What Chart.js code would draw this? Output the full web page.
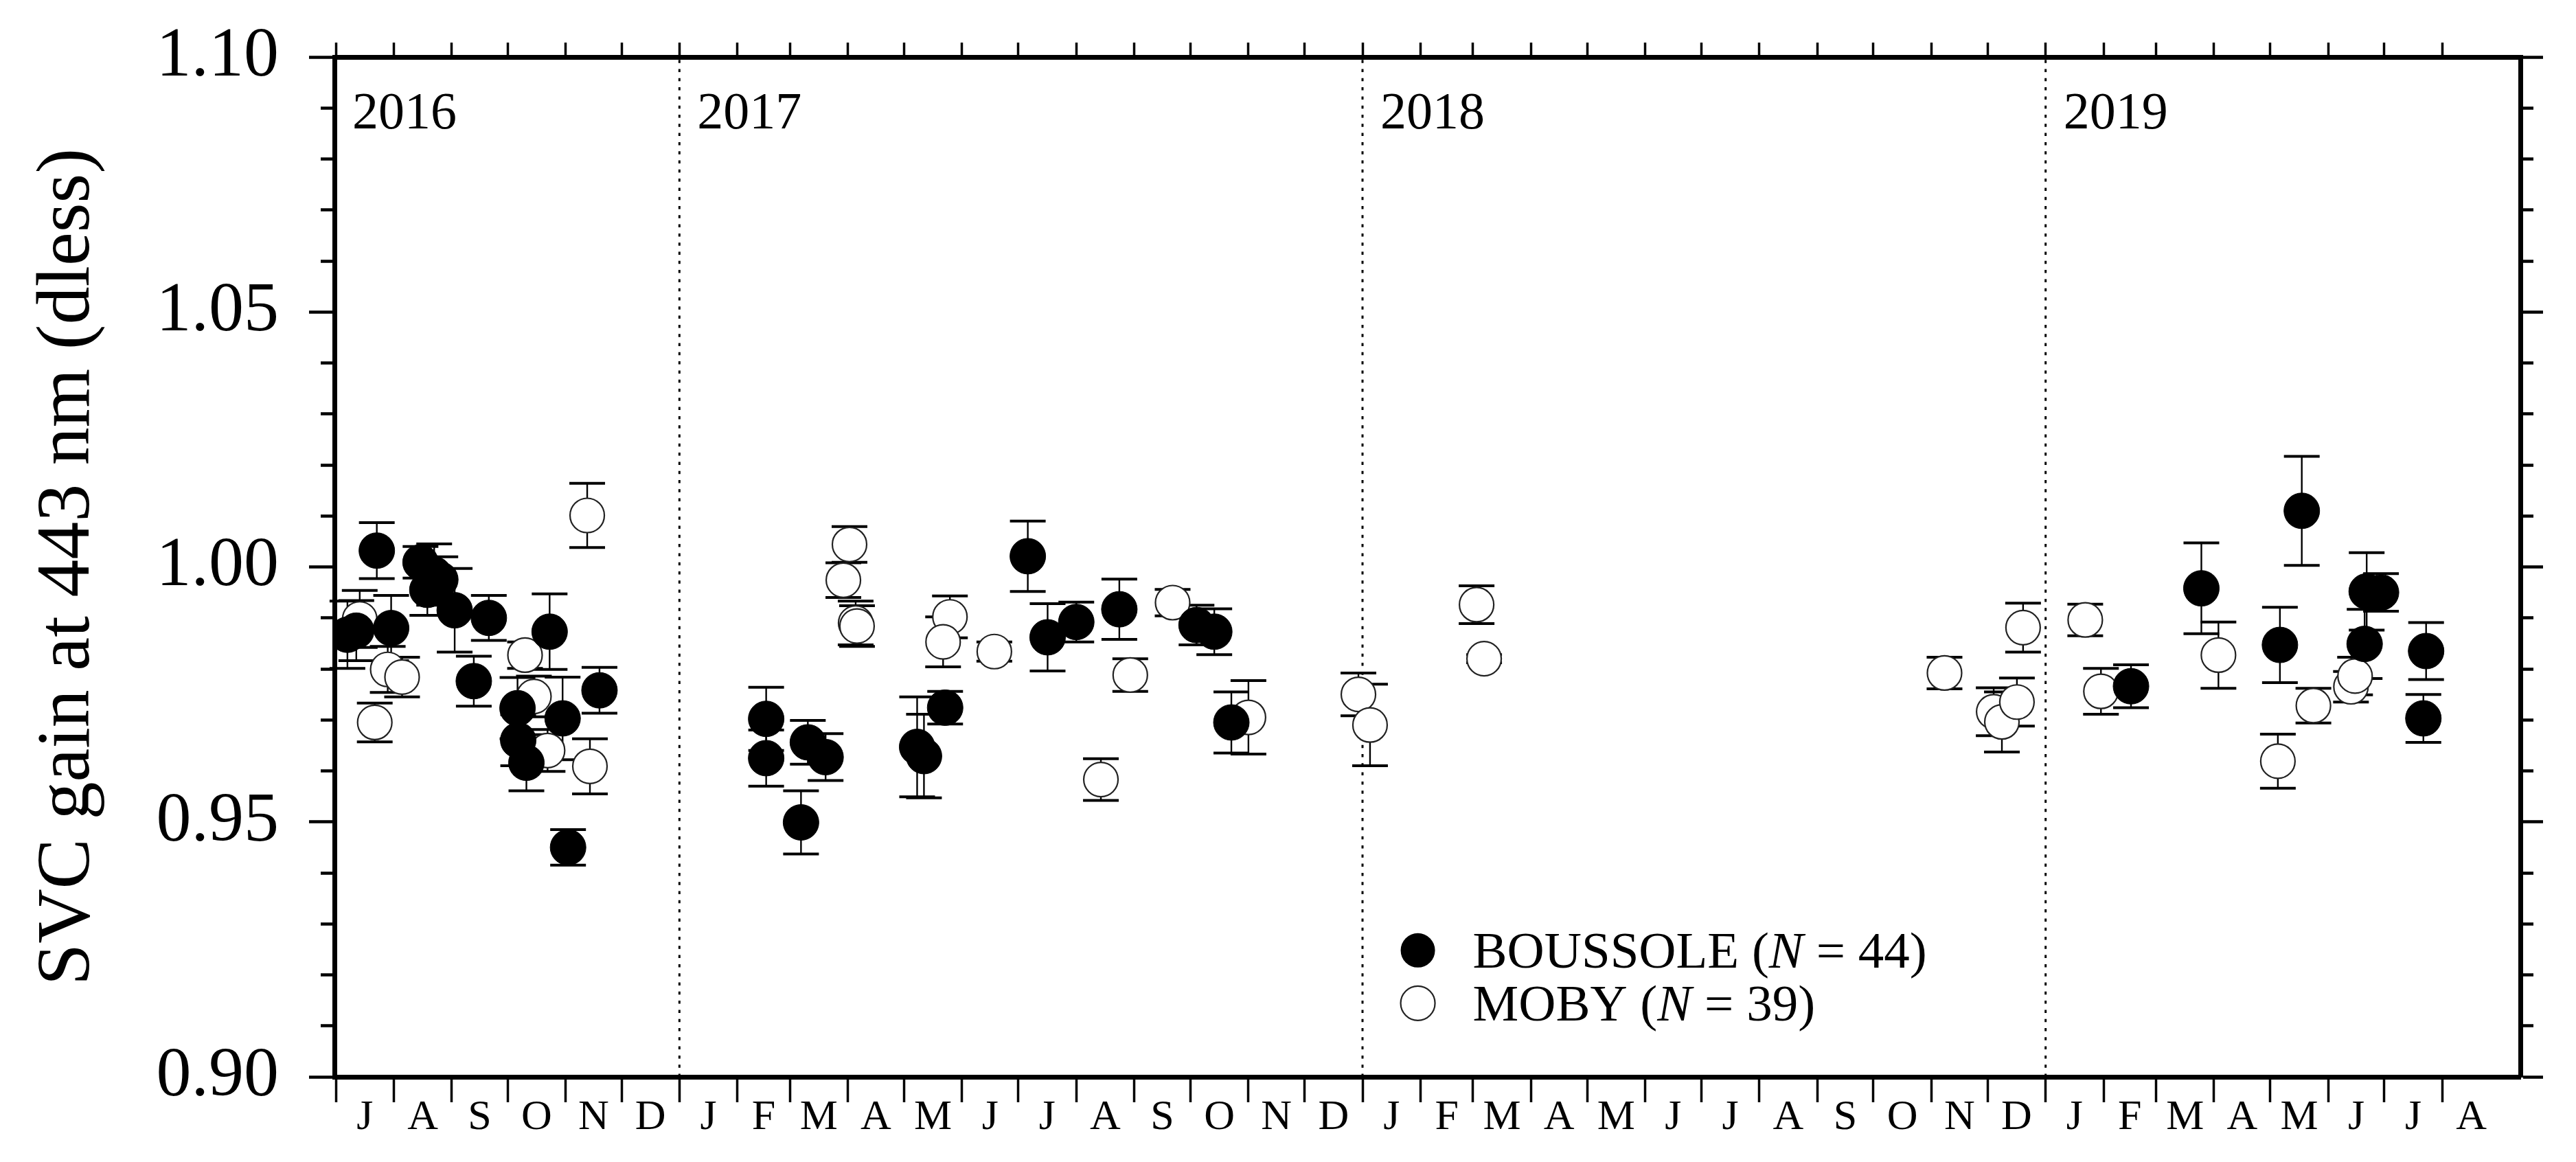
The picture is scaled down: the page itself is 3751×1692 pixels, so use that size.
<!DOCTYPE html>
<html>
<head>
<meta charset="utf-8">
<script src="https://cdn.jsdelivr.net/npm/chart.js@4.4.1/dist/chart.umd.min.js"></script>
<style>
  html, body { margin: 0; padding: 0; background: #ffffff; }
  #wrap { width: 3751px; height: 1692px; }
  canvas { display: block; }
</style>
</head>
<body>
<div id="wrap"><canvas id="chart" width="3751" height="1692"></canvas></div>
<script>
// ---------------- data (decimal year, gain, ± uncertainty) ----------------
const boussoleX = [
  2016.514, 2016.527, 2016.557, 2016.578, 2016.621, 2016.631, 2016.641, 2016.650, 2016.671,
  2016.699, 2016.721, 2016.763, 2016.764, 2016.776, 2016.810, 2016.829, 2016.837, 2016.883,
  2017.127, 2017.127, 2017.188, 2017.214, 2017.178, 2017.348, 2017.358, 2017.389,
  2017.510, 2017.539, 2017.581, 2017.644, 2017.757, 2017.783, 2017.808,
  2019.125, 2019.228, 2019.343, 2019.375, 2019.470, 2019.491, 2019.467, 2019.557, 2019.553
];
const boussoleY = [
  0.9867, 0.9875, 1.0032, 0.9880, 1.0009, 0.9955, 0.9985, 0.9975, 0.9915,
  0.9776, 0.9900, 0.9723, 0.9660, 0.9616, 0.9873, 0.9703, 0.9450, 0.9758,
  0.9702, 0.9625, 0.9656, 0.9627, 0.9499, 0.9647, 0.9629, 0.9724,
  1.0021, 0.9862, 0.9892, 0.9917, 0.9886, 0.9873, 0.9695,
  0.9766, 0.9958, 0.9847, 1.0110, 0.9952, 0.9950, 0.9849, 0.9835, 0.9703
];
const boussoleErr = [
  0.0066, 0.0059, 0.0055, 0.0064, 0.0031, 0.0050, 0.0060, 0.0045, 0.0082,
  0.0049, 0.0044, 0.0060, 0.0050, 0.0055, 0.0074, 0.0081, 0.0035, 0.0045,
  0.0062, 0.0055, 0.0043, 0.0046, 0.0062, 0.0098, 0.0082, 0.0032,
  0.0069, 0.0066, 0.0039, 0.0059, 0.0039, 0.0045, 0.0060,
  0.0042, 0.0089, 0.0074, 0.0107, 0.0076, 0.0037, 0.0068, 0.0056, 0.0047
];
const mobyX = [
  2016.532, 2016.554, 2016.573, 2016.594, 2016.774, 2016.787, 2016.807, 2016.865, 2016.869,
  2017.249, 2017.240, 2017.258, 2017.260, 2017.396, 2017.386, 2017.461, 2017.617, 2017.660,
  2017.722, 2017.833, 2017.994, 2018.011, 2018.167, 2018.178,
  2018.852, 2018.924, 2018.936, 2018.958, 2018.967,
  2019.058, 2019.081, 2019.253, 2019.340, 2019.392, 2019.447, 2019.453
];
const mobyY = [
  0.9898, 0.9695, 0.9799, 0.9784, 0.9827, 0.9746, 0.9640, 1.0101, 0.9609,
  1.0044, 0.9974, 0.9890, 0.9884, 0.9902, 0.9853, 0.9834, 0.9583, 0.9788,
  0.9930, 0.9705, 0.9750, 0.9690, 0.9926, 0.9820,
  0.9792, 0.9716, 0.9696, 0.9735, 0.9881,
  0.9896, 0.9756, 0.9827, 0.9619, 0.9728, 0.9765, 0.9786
];
const mobyErr = [
  0.0056, 0.0038, 0.0045, 0.0039, 0.0026, 0.0040, 0.0041, 0.0063, 0.0054,
  0.0035, 0.0034, 0.0043, 0.0040, 0.0041, 0.0049, 0.0019, 0.0041, 0.0032,
  0.0026, 0.0072, 0.0042, 0.0080, 0.0037, 0.0008,
  0.0031, 0.0047, 0.0059, 0.0047, 0.0048,
  0.0031, 0.0045, 0.0065, 0.0053, 0.0034, 0.0030, 0.0037
];
const legendNames = ['BOUSSOLE', 'MOBY'];
const legendCounts = [44, 39];
const yearLabels = ['2016', '2017', '2018', '2019'];
const yearDividers = [2017, 2018, 2019];
const monthLetters = ['J', 'F', 'M', 'A', 'M', 'J', 'J', 'A', 'S', 'O', 'N', 'D'];
const yMajorLabels = ['0.90', '0.95', '1.00', '1.05', '1.10'];
const yTitle = 'SVC gain at 443 nm (dless)';

// ---------------- axis set-up ----------------
const xMin = 2016.495, xMax = 2019.695;
const yMin = 0.90, yMax = 1.10;
const FONT = "'Liberation Serif', 'Times New Roman', serif";
const BW = 7;

function decYear(y, m, d) {
  const a = Date.UTC(y, 0, 1), b = Date.UTC(y + 1, 0, 1);
  return y + (Date.UTC(y, m, d) - a) / (b - a);
}
// month boundaries Jul 2016 .. Sep 2019
const monthBounds = [];
const monthIdx = [];
{
  let yy = 2016, mm = 6;
  for (let k = 0; k <= 38; k++) {
    monthBounds.push(decYear(yy, mm, 1));
    monthIdx.push(mm);
    mm++; if (mm > 11) { mm = 0; yy++; }
  }
}
const xTicks = [];
for (let k = 0; k < 38; k++) {
  xTicks.push({ value: monthBounds[k], label: '', major: true });
  xTicks.push({ value: (monthBounds[k] + monthBounds[k + 1]) / 2, label: monthLetters[monthIdx[k]], major: false });
}
const topTicks = monthBounds.slice(0, 38);
const yTickValues = Array.from({ length: 21 }, (_, i) => +(yMin + i * 0.01).toFixed(2));

function noPad(s) { s.paddingTop = 0; s.paddingBottom = 0; s.paddingLeft = 0; s.paddingRight = 0; }

// ---------------- plugins ----------------
const errorBars = {
  id: 'errorBars',
  beforeDatasetsDraw(chart) {
    const { ctx, scales: { x, y } } = chart;
    ctx.save();
    ctx.strokeStyle = '#000';
    ctx.lineCap = 'butt';
    const series = [[mobyX, mobyY, mobyErr], [boussoleX, boussoleY, boussoleErr]];
    for (const [xs, ys, es] of series) {
      for (let i = 0; i < xs.length; i++) {
        const px = x.getPixelForValue(xs[i]);
        const pt = y.getPixelForValue(ys[i] + es[i]);
        const pb = y.getPixelForValue(ys[i] - es[i]);
        ctx.lineWidth = 2.4;
        ctx.beginPath(); ctx.moveTo(px, pt); ctx.lineTo(px, pb); ctx.stroke();
        ctx.lineWidth = 4;
        ctx.beginPath();
        ctx.moveTo(px - 26, pt); ctx.lineTo(px + 26, pt);
        ctx.moveTo(px - 26, pb); ctx.lineTo(px + 26, pb);
        ctx.stroke();
      }
    }
    ctx.restore();
  }
};

const annotations = {
  id: 'annotations',
  afterDraw(chart) {
    const { ctx, chartArea: a, scales: { x, y } } = chart;
    ctx.save();
    ctx.fillStyle = '#000';
    ctx.textAlign = 'left';
    ctx.textBaseline = 'alphabetic';
    ctx.font = `76px ${FONT}`;
    yearLabels.forEach((t, i) => {
      const left = i === 0 ? a.left : x.getPixelForValue(yearDividers[i - 1]);
      ctx.fillText(t, left + 26, a.top + 104);
    });
    // legend
    const lx = x.getPixelForValue(2018.081);
    const ly = y.getPixelForValue(0.9248);
    legendNames.forEach((name, r) => {
      const cy = ly + r * 77;
      ctx.beginPath();
      ctx.arc(lx, cy, 25, 0, Math.PI * 2);
      if (r === 0) { ctx.fillStyle = '#000'; ctx.fill(); }
      else { ctx.fillStyle = '#fff'; ctx.fill(); ctx.strokeStyle = '#222'; ctx.lineWidth = 2.2; ctx.stroke(); }
      ctx.fillStyle = '#000';
      let tx = lx + 80;
      const base = cy + 25;
      const parts = [[name + ' (', 'normal'], ['N', 'italic'], [' = ' + legendCounts[r] + ')', 'normal']];
      for (const [s, st] of parts) {
        ctx.font = `${st} 75px ${FONT}`;
        ctx.fillText(s, tx, base);
        tx += ctx.measureText(s).width;
      }
    });
    ctx.restore();
  }
};

// ---------------- chart ----------------
const dividerSets = yearDividers.map(v => ({
  label: 'year ' + v,
  data: [{ x: v, y: yMin }, { x: v, y: yMax }],
  showLine: true,
  borderColor: '#000',
  borderWidth: 3,
  borderDash: [4.5, 8.8],
  pointRadius: 0,
  fill: false
}));

new Chart(document.getElementById('chart').getContext('2d'), {
  type: 'scatter',
  data: {
    datasets: [
      {
        label: 'BOUSSOLE',
        data: boussoleX.map((v, i) => ({ x: v, y: boussoleY[i] })),
        pointRadius: 26, pointHoverRadius: 26,
        backgroundColor: '#000', borderColor: '#000', borderWidth: 1
      },
      {
        label: 'MOBY',
        data: mobyX.map((v, i) => ({ x: v, y: mobyY[i] })),
        pointRadius: 25, pointHoverRadius: 25,
        backgroundColor: '#fff', borderColor: '#222', borderWidth: 2.2
      },
      ...dividerSets
    ]
  },
  options: {
    responsive: false,
    animation: false,
    devicePixelRatio: 1,
    events: [],
    layout: { padding: 0 },
    plugins: { legend: { display: false }, tooltip: { enabled: false } },
    scales: {
      x: {
        type: 'linear', position: 'bottom', min: xMin, max: xMax,
        afterBuildTicks: s => { s.ticks = xTicks.map(t => ({ value: t.value })); },
        afterFit: s => { s.height = 124; noPad(s); },
        ticks: {
          autoSkip: false, maxRotation: 0, minRotation: 0, padding: -8, color: '#000',
          font: { family: FONT, size: 62, lineHeight: 1 },
          callback: (v, i) => (xTicks[i] ? xTicks[i].label : '')
        },
        grid: {
          drawOnChartArea: false, drawTicks: true, tickLength: 37, tickWidth: 3.5,
          tickColor: c => (xTicks[c.index] && xTicks[c.index].major ? '#000' : 'rgba(0,0,0,0)')
        },
        border: { display: true, color: '#000', width: BW }
      },
      xTop: {
        type: 'linear', position: 'top', min: xMin, max: xMax,
        afterBuildTicks: s => { s.ticks = topTicks.map(v => ({ value: v })); },
        afterFit: s => { s.height = 83; noPad(s); },
        ticks: { display: false },
        grid: { drawOnChartArea: false, drawTicks: true, tickLength: 21, tickWidth: 3.5, tickColor: '#000' },
        border: { display: true, color: '#000', width: BW }
      },
      y: {
        type: 'linear', position: 'left', min: yMin, max: yMax,
        afterBuildTicks: s => { s.ticks = yTickValues.map(v => ({ value: v })); },
        afterFit: s => { s.width = 487; noPad(s); },
        ticks: {
          autoSkip: false, padding: 44, color: '#000', font: { family: FONT, size: 102 },
          callback: (v, i) => (i % 5 === 0 ? yMajorLabels[i / 5] : '')
        },
        grid: {
          drawOnChartArea: false, drawTicks: true, tickLength: 37, tickWidth: 4.5, tickColor: '#000',
          tickBorderDash: c => (c.index % 5 === 0 ? [] : [0, 17, 20, 200])
        },
        border: { display: true, color: '#000', width: BW },
        title: {
          display: true, text: yTitle, color: '#000',
          font: { family: FONT, size: 110 }, padding: { top: 34, bottom: 0 }
        }
      },
      yR: {
        type: 'linear', position: 'right', min: yMin, max: yMax,
        afterBuildTicks: s => { s.ticks = yTickValues.map(v => ({ value: v })); },
        afterFit: s => { s.width = 81; noPad(s); },
        ticks: { display: false, autoSkip: false },
        grid: {
          drawOnChartArea: false, drawTicks: true, tickLength: 33, tickWidth: 4.5, tickColor: '#000',
          tickBorderDash: c => (c.index % 5 === 0 ? [] : [15, 200])
        },
        border: { display: true, color: '#000', width: BW }
      }
    }
  },
  plugins: [errorBars, annotations]
});
</script>
</body>
</html>
